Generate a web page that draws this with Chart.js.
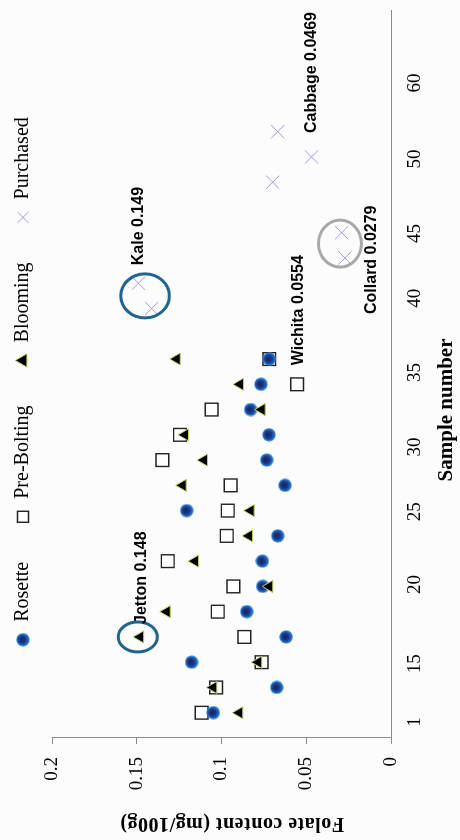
<!DOCTYPE html>
<html>
<head>
    <meta charset="utf-8">
    <title>Folate content by sample</title>
    <script src="https://cdn.jsdelivr.net/npm/chart.js@4.4.1/dist/chart.umd.min.js"></script>
    <style>
        html, body { margin: 0; padding: 0; background: #fcfcfc; overflow: hidden; }
        /* the chart is laid out on its side, then turned a quarter left */
        #wrap {
            position: absolute; left: 0; top: 0;
            width: 840px; height: 460px;
            transform-origin: 0 0;
            transform: translate(0, 840px) rotate(-90deg);
        }
    </style>
</head>
<body>
<div id="wrap"><canvas id="folate" width="840" height="460"></canvas></div>

<script>
    // position of each sample along the sample axis
    let fieldSample = [1, 2, 3, 4, 5, 6, 7, 8, 9, 10, 11, 12, 13, 14, 15];
    let purchasedSample = [17, 18, 19, 20, 22, 23, 24];

    // folate content, mg/100g
    let rosette    = [0.1048, 0.0674, 0.1176, 0.0619, 0.0851, 0.0757, 0.0759, 0.0668, 0.1205, 0.0625, 0.0733, 0.0720, 0.0828, 0.0767, 0.0718];
    let preBolting = [0.1117, 0.1032, 0.0763, 0.0865, 0.1022, 0.0930, 0.1317, 0.0969, 0.0963, 0.0946, 0.1349, 0.1245, 0.1058, 0.0554, 0.0718];
    let blooming   = [0.0895, 0.1048, 0.0783, 0.1480, 0.1323, 0.0718, 0.1156, 0.0838, 0.0828, 0.1229, 0.1103, 0.1215, 0.0763, 0.0891, 0.1264];
    let purchased  = [0.1412, 0.1490, 0.0272, 0.0291, 0.0698, 0.0469, 0.0668];

    // tick labels
    let sampleTickPos  = [0.63, 2.94, 6.08, 8.96, 11.52, 14.47, 17.41, 19.97, 22.92, 25.93];
    let sampleTickText = ['1', '15', '20', '25', '30', '35', '40', '45', '50', '60'];
    let folateTicks = [0, 0.05, 0.1, 0.15, 0.2];

    // callouts
    let noteText = ['Jetton 0.148', 'Kale 0.149', 'Wichita 0.0554', 'Collard 0.0279', 'Cabbage 0.0469'];
    let noteX = [4, 18, 14, 19, 23];
    let noteY = [0.148, 0.149, 0.0554, 0.0279, 0.0469];
    let ringX = [4, 17.5, 19.57];
    let ringY = [0.1494, 0.1451, 0.0301];
</script>

<script>
    let serif = '"Liberation Serif", "Times New Roman", serif';
    Chart.defaults.font.family = serif;
    Chart.defaults.color = '#000';

    // text offsets (px) and ring sizes, styling only
    let noteDx = [13, 18, 19, -56, 24];
    let noteDy = [1, 0.5, 1, 28, 0];
    let ringRx = [15, 22, 23.5];
    let ringRy = [19.5, 24.3, 21.5];
    let ringColor = ['#1f6591', '#1f6591', '#a8a8a8'];

    function ball(d) {
        let c = document.createElement('canvas');
        c.width = d;
        c.height = d;
        let g = c.getContext('2d');
        let r = d / 2;
        let grad = g.createRadialGradient(r, r * 0.8, 0, r, r, r);
        grad.addColorStop(0, '#142260');
        grad.addColorStop(0.5, '#1b3a8a');
        grad.addColorStop(0.82, '#2471c8');
        grad.addColorStop(1, '#5aa8ea');
        g.fillStyle = grad;
        g.beginPath();
        g.arc(r, r, r - 0.3, 0, Math.PI * 2);
        g.fill();
        return c;
    }
    let rosetteDot = ball(14);

    function pts(xs, ys) {
        return xs.map(function (v, i) { return {x: v, y: ys[i]}; });
    }

    let notes = {
        id: 'notes',
        afterLayout: function (chart) {
            // nudge the legend row to where the original had it
            chart.legend.left += 40;
            chart.legend.right += 40;
            chart.legend.top -= 24;
        },
        afterDatasetsDraw: function (chart) {
            let ctx = chart.ctx;
            let x = chart.scales.x, y = chart.scales.y;
            let area = chart.chartArea;
            ctx.save();
            for (let i = 0; i < ringX.length; i++) {
                ctx.beginPath();
                ctx.ellipse(x.getPixelForValue(ringX[i]), y.getPixelForValue(ringY[i]),
                    ringRx[i], ringRy[i], 0, 0, Math.PI * 2);
                ctx.lineWidth = 3;
                ctx.strokeStyle = ringColor[i];
                ctx.stroke();
            }
            ctx.fillStyle = '#000';
            ctx.font = 'bold 16px "Liberation Sans", Arial, sans-serif';
            ctx.textAlign = 'left';
            ctx.textBaseline = 'middle';
            for (let i = 0; i < noteText.length; i++) {
                ctx.fillText(noteText[i], x.getPixelForValue(noteX[i]) + noteDx[i],
                    y.getPixelForValue(noteY[i]) + noteDy[i]);
            }
            // axis titles
            ctx.textAlign = 'center';
            ctx.font = 'bold 21px ' + serif;
            ctx.fillText('Sample number', area.left + 328, area.bottom + 56);
            ctx.font = 'bold 20px ' + serif;
            ctx.letterSpacing = '0.5px';
            ctx.translate(17, 232);
            ctx.rotate(-Math.PI / 2);
            ctx.fillText('Folate content (mg/100g)', 0, 0);
            ctx.restore();
        }
    };

    new Chart(document.getElementById('folate'), {
        type: 'scatter',
        data: {
            datasets: [{
                label: 'Rosette',
                data: pts(fieldSample, rosette),
                pointStyle: rosetteDot,
                backgroundColor: '#1b3a8a',
                borderColor: '#2471c8',
                order: 1
            }, {
                label: 'Pre-Bolting',
                data: pts(fieldSample, preBolting),
                pointStyle: 'rect',
                pointRadius: 9,
                backgroundColor: '#ffffff',
                borderColor: '#222222',
                borderWidth: 1.4,
                order: 2
            }, {
                label: 'Blooming',
                data: pts(fieldSample, blooming),
                pointStyle: 'triangle',
                pointRadius: 7,
                backgroundColor: '#000000',
                borderColor: '#c5d066',
                borderWidth: 1,
                order: 0
            }, {
                label: 'Purchased',
                data: pts(purchasedSample, purchased),
                pointStyle: 'crossRot',
                pointRadius: 9.4,
                backgroundColor: '#a39bd3',
                borderColor: '#a39bd3',
                borderWidth: 1,
                order: 3
            }]
        },
        options: {
            responsive: false,
            animation: false,
            events: [],
            layout: {padding: {left: 0, right: 5, top: 0, bottom: 0}},
            plugins: {
                tooltip: {enabled: false},
                legend: {
                    position: 'top',
                    maxHeight: 52,
                    labels: {
                        usePointStyle: true,
                        boxWidth: 16,
                        boxHeight: 11,
                        padding: 37,
                        color: '#000',
                        font: {size: 20, family: serif},
                        sort: function (a, b) { return a.datasetIndex - b.datasetIndex; }
                    }
                }
            },
            scales: {
                x: {
                    type: 'linear',
                    min: 0,
                    max: 28.8,
                    grid: {display: false, drawTicks: false},
                    border: {color: '#8c8c8c', width: 1},
                    afterBuildTicks: function (scale) {
                        scale.ticks = sampleTickPos.map(function (v) { return {value: v}; });
                    },
                    afterFit: function (scale) { scale.height = 69; },
                    ticks: {
                        autoSkip: false,
                        maxRotation: 0,
                        minRotation: 0,
                        padding: 13,
                        font: {size: 19},
                        callback: function (v, i) { return sampleTickText[i]; }
                    }
                },
                y: {
                    min: 0,
                    max: 0.2,
                    grid: {drawOnChartArea: false, drawTicks: true, tickLength: 6, color: '#8c8c8c'},
                    border: {color: '#8c8c8c', width: 1},
                    afterBuildTicks: function (scale) {
                        scale.ticks = folateTicks.map(function (v) { return {value: v}; });
                    },
                    afterFit: function (scale) { scale.width = 102; },
                    ticks: {
                        padding: 13,
                        font: {size: 19},
                        callback: function (v) { return String(v); }
                    }
                }
            }
        },
        plugins: [notes]
    });
</script>
</body>
</html>
